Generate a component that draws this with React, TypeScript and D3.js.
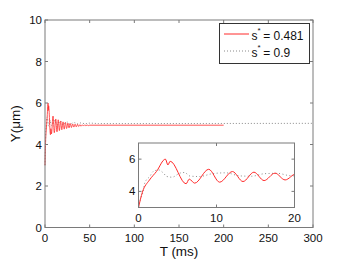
import React from 'react';
import * as d3 from 'd3';

// s* = 0.481 (red, solid) -- time in ms, displacement in um
const redTime = [0, 0.5, 1.4, 2.3, 3.45, 3.77, 4.06, 6.1, 6.5, 7.2, 9.0, 10.4, 12.05, 13.4, 14.8, 16.1, 17.5, 18.8,
  20.2, 21.5, 22.9, 24.2, 25.6, 26.9, 28.3, 29.6, 31, 32.3, 33.7, 35, 36.4, 37.7, 39.1, 40.4, 41.8, 43.1, 44.5, 45.8,
  47.2, 48.5, 50, 200];
const redValue = [3.0, 3.95, 4.7, 5.23, 6.0, 5.64, 5.87, 4.47, 4.76, 4.51, 5.37, 4.57, 5.23, 4.61, 5.19, 4.67, 5.13, 4.71,
  5.09, 4.74, 5.06, 4.77, 5.03, 4.8, 5.01, 4.82, 4.99, 4.84, 4.98, 4.85, 4.97, 4.87, 4.96, 4.88, 4.95, 4.89, 4.95, 4.9,
  4.94, 4.91, 4.93, 4.93];

// s* = 0.9 (grey, dotted)
const dotTime = [0, 0.3, 0.6, 0.8, 1.45, 1.9, 2.6, 3.2, 3.6, 4.3, 5.3, 5.9, 6.6, 7.8, 9.5, 11.2, 13, 14.5, 16.2, 17.8,
  19.5, 21, 23, 25, 27, 29, 31, 33, 36, 40, 45, 50, 60, 300];
const dotValue = [3.0, 3.6, 4.0, 4.52, 4.93, 5.24, 5.33, 5.13, 4.93, 4.88, 5.13, 5.17, 4.95, 4.92, 5.1, 5.15, 4.96, 4.94,
  5.1, 5.12, 4.97, 4.96, 5.07, 5.08, 4.98, 4.98, 5.05, 5.05, 4.99, 5.04, 5.0, 5.03, 5.01, 5.02];

const xTicks = [0, 50, 100, 150, 200, 250, 300];
const yTicks = [0, 2, 4, 6, 8, 10];
const insetXTicks = [0, 10, 20];
const insetYTicks = [4, 6];
const legendLabels = ['0.481', '0.9'];

const font = '"Liberation Sans", Arial, Helvetica, sans-serif';
const axisColor = '#7a7a7a';
const redColor = '#ff2a2a';
const dotColor = '#8a8a8a';

const main = { left: 45, right: 313, top: 20, bottom: 227.5 };
const inset = { left: 138.5, right: 294.5, top: 143, bottom: 207.5 };

export default function App() {
  const x = d3.scaleLinear().domain([0, 300]).range([main.left, main.right]);
  const y = d3.scaleLinear().domain([0, 10]).range([main.bottom, main.top]);
  const ix = d3.scaleLinear().domain([0, 20]).range([inset.left, inset.right]);
  const iy = d3.scaleLinear().domain([3, 7]).range([inset.bottom, inset.top]);

  const red = redTime.map((t, i) => [t, redValue[i]] as [number, number]);
  const dot = dotTime.map((t, i) => [t, dotValue[i]] as [number, number]);

  const mainLine = d3.line<[number, number]>().x(d => x(d[0])).y(d => y(d[1])).curve(d3.curveMonotoneX);
  const insetLine = d3.line<[number, number]>().x(d => ix(d[0])).y(d => iy(d[1])).curve(d3.curveMonotoneX);

  const tick = 3;

  return (
    <svg width={346} height={260} style={{ position: 'absolute', left: 0, top: 0, background: '#fff' }}
      fontFamily={font}>
      <defs>
        <clipPath id="insetClip">
          <rect x={inset.left} y={inset.top} width={inset.right - inset.left} height={inset.bottom - inset.top} />
        </clipPath>
      </defs>

      {/* main plot */}
      <path d={mainLine(dot) || ''} fill="none" stroke={dotColor} strokeWidth={1} strokeDasharray="1,2" />
      <path d={mainLine(red) || ''} fill="none" stroke={redColor} strokeWidth={0.8} />

      <rect x={main.left} y={main.top} width={main.right - main.left} height={main.bottom - main.top}
        fill="none" stroke={axisColor} strokeWidth={1} />
      {xTicks.map(t => (
        <g key={'x' + t}>
          <line x1={x(t)} x2={x(t)} y1={main.bottom} y2={main.bottom - tick} stroke={axisColor} />
          <line x1={x(t)} x2={x(t)} y1={main.top} y2={main.top + tick} stroke={axisColor} />
          <text x={x(t)} y={main.bottom + 14} fontSize={11.5} textAnchor="middle" fill="#111">{t}</text>
        </g>
      ))}
      {yTicks.map(t => (
        <g key={'y' + t}>
          <line x1={main.left} x2={main.left + tick} y1={y(t)} y2={y(t)} stroke={axisColor} />
          <line x1={main.right} x2={main.right - tick} y1={y(t)} y2={y(t)} stroke={axisColor} />
          <text x={main.left - 3} y={y(t) + 4} fontSize={11.5} textAnchor="end" fill="#111">{t}</text>
        </g>
      ))}
      <text x={(main.left + main.right) / 2} y={256} fontSize={13.5} textAnchor="middle" fill="#111">T (ms)</text>
      <text transform={`translate(20, ${(main.top + main.bottom) / 2}) rotate(-90)`} fontSize={13.5}
        textAnchor="middle" fill="#111">Y(μm)</text>

      {/* legend */}
      <rect x={219.5} y={23.5} width={90} height={40} fill="#fff" stroke="#333" strokeWidth={1} />
      {legendLabels.map((lab, i) => {
        const ly = 34 + i * 17;
        return (
          <g key={lab}>
            <line x1={224} x2={249} y1={ly} y2={ly} stroke={i === 0 ? redColor : dotColor} strokeWidth={1}
              strokeDasharray={i === 0 ? undefined : '1,2'} />
            <text x={251.5} y={ly + 6} fontSize={12} fill="#111">
              s<tspan dy={-7} fontSize={8}>*</tspan>
              <tspan dx={2.5} dy={7} fontSize={12}>= {lab}</tspan>
            </text>
          </g>
        );
      })}

      {/* inset */}
      <rect x={inset.left} y={inset.top} width={inset.right - inset.left} height={inset.bottom - inset.top}
        fill="#fff" />
      <g clipPath="url(#insetClip)">
        <path d={insetLine(dot) || ''} fill="none" stroke={dotColor} strokeWidth={1} strokeDasharray="1,2.5" />
        <path d={insetLine(red) || ''} fill="none" stroke={redColor} strokeWidth={1} />
      </g>
      <rect x={inset.left} y={inset.top} width={inset.right - inset.left} height={inset.bottom - inset.top}
        fill="none" stroke={axisColor} strokeWidth={1} />
      {insetXTicks.map(t => (
        <g key={'ix' + t}>
          <line x1={ix(t)} x2={ix(t)} y1={inset.bottom} y2={inset.bottom - tick} stroke={axisColor} />
          <line x1={ix(t)} x2={ix(t)} y1={inset.top} y2={inset.top + tick} stroke={axisColor} />
          <text x={ix(t)} y={inset.bottom + 14} fontSize={11.5} textAnchor="middle" fill="#111">{t}</text>
        </g>
      ))}
      {insetYTicks.map(t => (
        <g key={'iy' + t}>
          <line x1={inset.left} x2={inset.left + tick} y1={iy(t)} y2={iy(t)} stroke={axisColor} />
          <line x1={inset.right} x2={inset.right - tick} y1={iy(t)} y2={iy(t)} stroke={axisColor} />
          <text x={inset.left - 3} y={iy(t) + 4} fontSize={11.5} textAnchor="end" fill="#111">{t}</text>
        </g>
      ))}
    </svg>
  );
}
